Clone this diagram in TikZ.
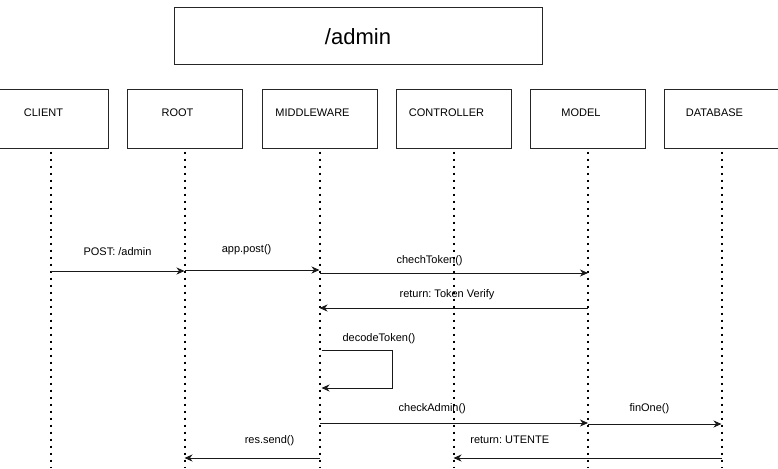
\documentclass[tikz,border=0pt]{standalone}
\usepackage{fontspec}
\setmainfont{Liberation Sans}
\usetikzlibrary{arrows.meta}
\frenchspacing

\tikzset{
  actor/.style={draw=black!85, line width=1pt, minimum width=115pt, minimum height=58pt, inner sep=0pt},
  actorname/.style={font=\fontsize{11}{13}\selectfont, xshift=-7pt, yshift=6pt},
  life/.style={line width=2pt, dash pattern=on 2pt off 5pt, shorten <=3pt},
  msg/.style={line width=0.9pt, black!90, -{Stealth[length=8pt,width=7pt,inset=2.5pt]}},
  lbl/.style={font=\fontsize{11}{13}\selectfont, inner sep=0pt, black}
}

\begin{document}
\begin{tikzpicture}[x=1pt, y=-1pt]
\useasboundingbox (0,0) rectangle (778,468);

% title
\node[actor, minimum width=368pt, minimum height=57pt] (title) at (358,36.5) {\fontsize{22}{26}\selectfont /admin};

% actors
\node[actor, label={[actorname, name=client-t]center:CLIENT}] (client) at (50.5,119) {};
\node[actor, label={[actorname, name=root-t]center:ROOT}] (root) at (184.5,119) {};
\node[actor, label={[actorname, name=mw-t]center:MIDDLEWARE}] (mw) at (319.5,119) {};
\node[actor, label={[actorname, name=ctrl-t]center:CONTROLLER}] (ctrl) at (453.5,119) {};
\node[actor, label={[actorname, name=model-t]center:MODEL}] (model) at (588,119) {};
\node[actor, label={[actorname, name=db-t]center:DATABASE}] (db) at (721.5,119) {};

% lifelines
\coordinate (client-b) at (client |- 0,468);
\coordinate (root-b) at (root |- 0,468);
\coordinate (mw-b) at (mw |- 0,468);
\coordinate (ctrl-b) at (ctrl |- 0,468);
\coordinate (model-b) at (model |- 0,468);
\coordinate (db-b) at (db |- 0,468);
\draw[life] (client.south) -- (client-b);
\draw[life] (root.south) -- (root-b);
\draw[life] (mw.south) -- (mw-b);
\draw[life] (ctrl.south) -- (ctrl-b);
\draw[life] (model.south) -- (model-b);
\draw[life] (db.south) -- (db-b);

% messages
\draw[msg] (client |- 0,271) -- node[lbl, pos=0.5, yshift=19pt] (l-post) {POST: /admin} (root |- 0,271);
\draw[msg] (root |- 0,270) -- node[lbl, pos=0.46, yshift=20pt] (l-app) {app.post()} (mw |- 0,270);
\draw[msg] (mw |- 0,273) -- node[lbl, pos=0.41, yshift=12pt] (l-chech) {chechToken()} (model |- 0,273);
\draw[msg] (model |- 0,308) -- node[lbl, pos=0.525, yshift=13pt] (l-verify) {return: Token Verify} (mw |- 0,308);
\draw[msg] ([xshift=2pt]mw |- 0,350) -- node[lbl, pos=0.81, yshift=11pt] (l-decode) {decodeToken()} ++(71,0) |- ([xshift=2pt]mw |- 0,388);
\draw[msg] (mw |- 0,423) -- node[lbl, pos=0.42, yshift=14pt] (l-admin) {checkAdmin()} (model |- 0,423);
\draw[msg] (model |- 0,424) -- node[lbl, pos=0.46, yshift=15pt] (l-find) {finOne()} (db |- 0,424);
\draw[msg] (db |- 0,458) -- node[lbl, pos=0.79, yshift=18pt] (l-utente) {return: UTENTE} (ctrl |- 0,458);
\draw[msg] (mw |- 0,458) -- node[lbl, pos=0.37, yshift=17pt] (l-send) {res.send()} (root |- 0,458);

\end{tikzpicture}
\end{document}
